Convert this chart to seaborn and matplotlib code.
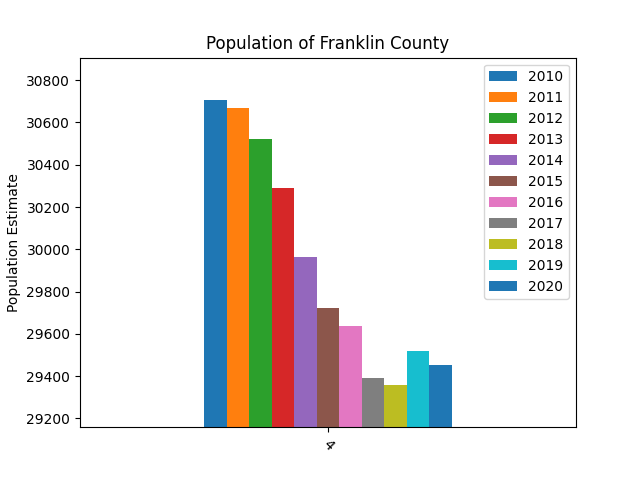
import matplotlib
matplotlib.use("Agg")
import matplotlib.pyplot as plt
import seaborn as sns
import pandas as pd

years = ["2010", "2011", "2012", "2013", "2014", "2015", "2016", "2017", "2018", "2019", "2020"]
populations = [30707, 30669, 30522, 30290, 29964, 29722, 29637, 29391, 29358, 29519, 29453]
row_label = "4"

df = pd.DataFrame({"row": [row_label] * len(years), "year": years, "pop": populations})

tab10 = sns.color_palette("tab10", 10)
palette = [tab10[i % 10] for i in range(len(years))]

fig, ax = plt.subplots(figsize=(6.4, 4.8), dpi=100)
sns.barplot(data=df, x="row", y="pop", hue="year", palette=palette, width=0.5,
            saturation=1, ax=ax, legend=True)
ax.set_ylim(min(populations) - 200, max(populations) + 200)
ax.set_xlim(-0.5, 0.5)
ax.set_title("Population of Franklin County")
ax.set_ylabel("Population Estimate")
ax.set_xlabel("")
plt.setp(ax.get_xticklabels(), rotation=-45)
ax.legend(loc="upper right")
fig.savefig("out.png", dpi=100)
